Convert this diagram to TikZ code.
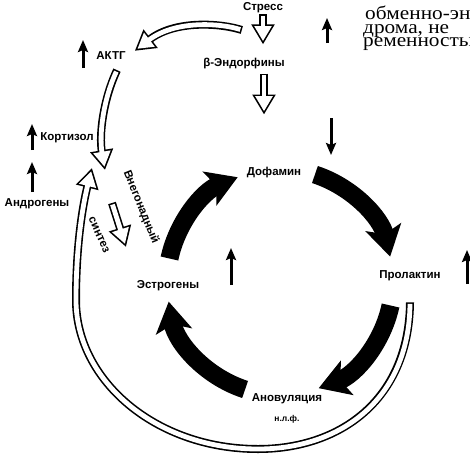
\documentclass[tikz,border=0pt]{standalone}
\usepackage{fontspec}
\setmainfont{Liberation Sans}
\newfontfamily\livre[FakeStretch=1.12]{Liberation Serif}
\usetikzlibrary{arrows.meta}

\begin{document}
\begin{tikzpicture}[x=1pt, y=-1pt]
	% STYLES
	\tikzstyle{etiquette} = [font=\bfseries\fontsize{11.5}{13}\selectfont, inner sep=1pt]
	\tikzstyle{texte} = [font=\livre\fontsize{19}{14}\selectfont, anchor=base west, inner sep=0pt]
	\tikzstyle{fleche} = [line width=3pt, -{Stealth[length=12pt, width=10pt, inset=2pt]}]
	\tikzstyle{boucle} = [line width=18pt, -{Stealth[length=30pt, width=36pt, inset=7pt]}]
	\tikzstyle{creux} = [line width=8pt, -{Triangle[length=20pt, width=22pt]},
		postaction={draw=white, line width=4.8pt, shorten <=1.6pt, shorten >=3.3pt,
			-{Triangle[length=15.1pt, width=16.6pt]}}]

	% CADRE
	\useasboundingbox (0, 0) rectangle (470, 455);
	\clip (0, 0) rectangle (470, 455);

	% TEXTE DE LA PAGE
	\node[texte] (ligne1) at (365, 19) {обменно-эндокринного};
	\node[texte] (ligne2) at (363, 33) {дрома, не};
	\node[texte] (ligne3) at (363, 46) {ременностью};

	% ETIQUETTES
	\node[etiquette] (stress) at (263, 8) {Стресс};
	\node[etiquette] (endorph) at (244, 64) {β-Эндорфины};
	\node[etiquette] (aktg) at (111, 56) {АКТГ};
	\node[etiquette] (kortizol) at (67, 138) {Кортизол};
	\node[etiquette] (androg) at (37, 204) {Андрогены};
	\node[etiquette, rotate=-68] (vnegonad) at (141, 207) {Внегонадный};
	\node[etiquette, rotate=-66] (sintez) at (99, 235) {синтез};
	\node[etiquette] (dofamin) at (274, 173) {Дофамин};
	\node[etiquette] (prolaktin) at (410, 276) {Пролактин};
	\node[etiquette] (estrogen) at (168, 286) {Эстрогены};
	\node[etiquette, align=center] (anovul) at (287, 408)
		{Ановуляция\\[7pt]{\fontsize{8.5}{10}\selectfont н.л.ф.}};

	% CYCLE
	\coordinate (centre) at (280, 282);
	\foreach \a/\b in {-168/-112, -72/-13, 12/70, 108/170}
		\draw[boucle] (centre) ++(\a:113) arc[start angle=\a, end angle=\b, radius=113];

	% FLECHES CREUSES
	% stress
	\draw[creux] (stress.south) -- ++(0, 30);
	\draw[creux] ([xshift=20pt, yshift=-3pt]endorph.south) -- ++(0, 41);
	% stress -> AKTG
	\draw[creux] ([yshift=-22pt]stress.west)
		.. controls (220, 23) and (175, 20) .. ([xshift=8pt]aktg.north east);
	% AKTG -> cortex
	\draw[creux] ([xshift=6pt, yshift=-9pt]aktg.south)
		.. controls (103, 100) and (99, 135) .. (105, 170);
	% retour prolactine
	\draw[creux] ([yshift=-20pt]prolaktin.south)
		.. controls (409, 400) and (340, 449) .. (258, 449)
		.. controls (155, 449) and (76, 380) .. (76, 300)
		.. controls (76, 240) and (84, 200) .. (92, 168);
	% extragonadal
	\draw[creux] (112, 203) -- (126, 247);

	% HAUSSE / BAISSE
	\draw[fleche] (83, 68) -- (83, 40);
	\draw[fleche] (327, 43) -- (327, 18);
	\draw[fleche] (32, 150) -- (32, 124);
	\draw[fleche] (32, 192) -- (32, 162);
	\draw[fleche] (231, 285) -- (231, 248);
	\draw[fleche] (467, 284) -- (467, 250);
	\draw[fleche] (331, 118) -- (331, 155);

\end{tikzpicture}
\end{document}
